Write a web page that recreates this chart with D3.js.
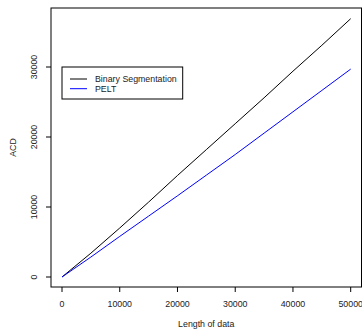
<!DOCTYPE html>
<html>
<head>
<meta charset="utf-8">
<script src="https://cdn.jsdelivr.net/npm/d3@7"></script>
<style>
  body { margin: 0; background: #fff; }
  svg { display: block; font-family: "Liberation Sans", Arial, sans-serif; }
</style>
</head>
<body>
<svg id="chart"></svg>
<script>
const lengths = [0, 5000, 10000, 15000, 20000, 25000, 30000, 35000, 40000, 45000, 50000];
const binSeg = [0, 3400, 7000, 10700, 14500, 18200, 21900, 25600, 29400, 33100, 36900];
const pelt = [0, 2850, 5800, 8700, 11600, 14550, 17500, 20550, 23600, 26650, 29700];
const xTicks = [0, 10000, 20000, 30000, 40000, 50000];
const yTicks = [0, 10000, 20000, 30000];
const seriesNames = ['Binary Segmentation', 'PELT'];
const seriesColors = ['#000000', '#0000ff'];

const width = 362;
const height = 330;
const box = { left: 51, top: 8, right: 361.5, bottom: 287 };

const svg = d3.select('#chart')
  .attr('width', width)
  .attr('height', height);

// scales anchored to where R put the ticks
const x = d3.scaleLinear().domain([0, 50000]).range([62, 350.7]);
const y = d3.scaleLinear().domain([0, 30000]).range([277, 67]);

const fontSize = '8.8px';

// plot box
svg.append('rect')
  .attr('x', box.left)
  .attr('y', box.top)
  .attr('width', box.right - box.left)
  .attr('height', box.bottom - box.top)
  .attr('fill', 'none')
  .attr('stroke', '#000')
  .attr('stroke-width', 1);

// x axis ticks
const xAxis = svg.append('g');
xAxis.selectAll('line')
  .data(xTicks)
  .enter()
  .append('line')
  .attr('x1', (d) => x(d))
  .attr('x2', (d) => x(d))
  .attr('y1', box.bottom)
  .attr('y2', box.bottom + 5)
  .attr('stroke', '#000');
xAxis.selectAll('text')
  .data(xTicks)
  .enter()
  .append('text')
  .attr('x', (d) => x(d))
  .attr('y', 307)
  .attr('text-anchor', 'middle')
  .attr('font-size', fontSize)
  .attr('fill', '#222')
  .text((d) => d);

// y axis ticks, labels rotated as in R's default las=0
const yAxis = svg.append('g');
yAxis.selectAll('line')
  .data(yTicks)
  .enter()
  .append('line')
  .attr('x1', box.left)
  .attr('x2', box.left - 5)
  .attr('y1', (d) => y(d))
  .attr('y2', (d) => y(d))
  .attr('stroke', '#000');
yAxis.selectAll('text')
  .data(yTicks)
  .enter()
  .append('text')
  .attr('transform', (d) => 'translate(37,' + y(d) + ') rotate(-90)')
  .attr('text-anchor', 'middle')
  .attr('font-size', fontSize)
  .attr('fill', '#222')
  .text((d) => d);

// axis titles
svg.append('text')
  .attr('x', (box.left + box.right) / 2)
  .attr('y', 327)
  .attr('text-anchor', 'middle')
  .attr('font-size', fontSize)
  .attr('fill', '#222')
  .text('Length of data');

svg.append('text')
  .attr('transform', 'translate(16,' + (box.top + box.bottom) / 2 + ') rotate(-90)')
  .attr('text-anchor', 'middle')
  .attr('font-size', fontSize)
  .attr('fill', '#222')
  .text('ACD');

// lines
const line = d3.line()
  .x((d, i) => x(lengths[i]))
  .y((d) => y(d));

[binSeg, pelt].forEach((vals, i) => {
  svg.append('path')
    .datum(vals)
    .attr('d', line)
    .attr('fill', 'none')
    .attr('stroke', seriesColors[i])
    .attr('stroke-width', 1);
});

// legend
const legend = svg.append('g');
legend.append('rect')
  .attr('x', 62)
  .attr('y', 67)
  .attr('width', 120.7)
  .attr('height', 32)
  .attr('fill', '#fff')
  .attr('stroke', '#000');

seriesNames.forEach((name, i) => {
  const ly = 79 + i * 9.7;
  legend.append('line')
    .attr('x1', 70)
    .attr('x2', 87)
    .attr('y1', ly)
    .attr('y2', ly)
    .attr('stroke', seriesColors[i]);
  legend.append('text')
    .attr('x', 95)
    .attr('y', ly + 3.2)
    .attr('font-size', fontSize)
    .attr('fill', '#222')
    .text(name);
});
</script>
</body>
</html>
